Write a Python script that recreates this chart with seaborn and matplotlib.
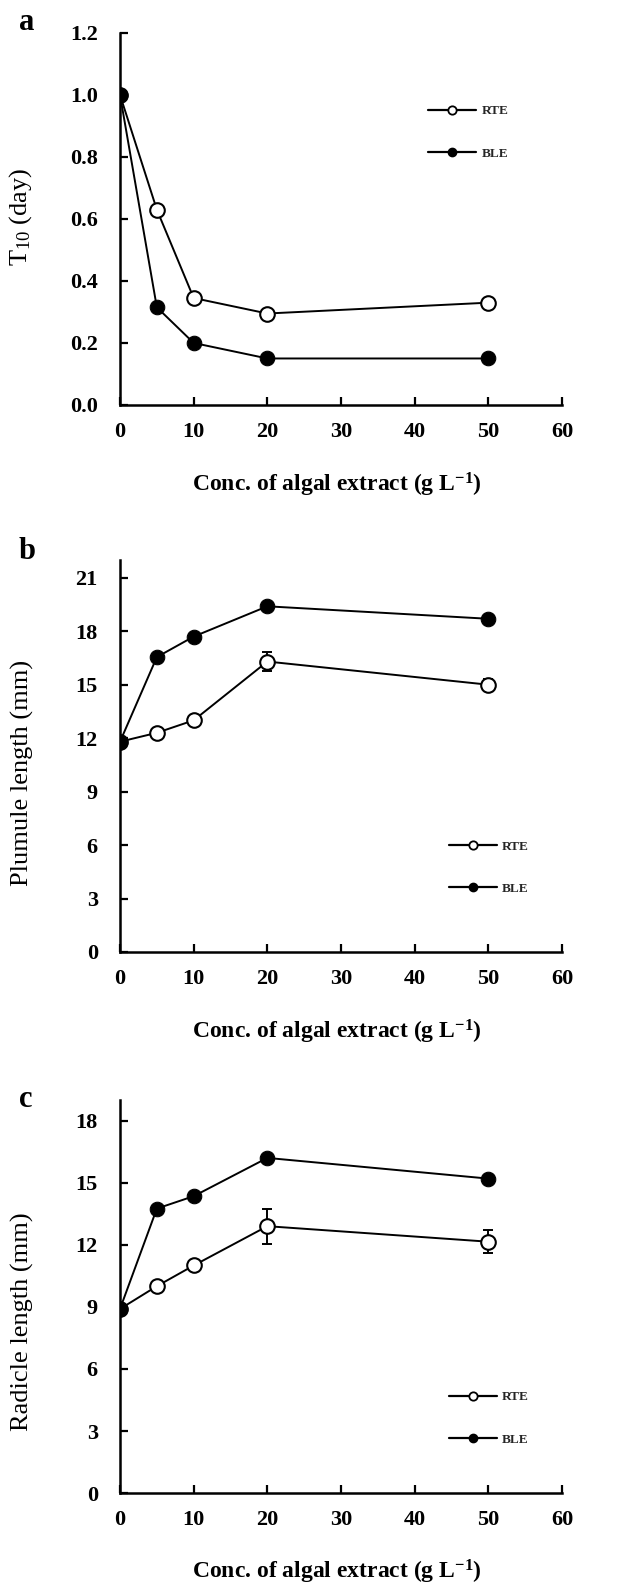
import matplotlib
matplotlib.use("Agg")
import matplotlib.pyplot as plt
from matplotlib.lines import Line2D
import numpy as np
import pandas as pd
import seaborn as sns

# Concentration of algal extract (g L-1)
conc = [0, 5, 10, 20, 50]

# (a) T10 (day)
t10_rte = [1.0, 0.63, 0.345, 0.295, 0.33]
t10_ble = [1.0, 0.315, 0.20, 0.15, 0.15]

# (b) Plumule length (mm)
plumule_rte = [11.8, 12.3, 13.0, 16.3, 15.0]
plumule_rte_err = [0.0, 0.0, 0.0, 0.55, 0.3]
plumule_ble = [11.8, 16.55, 17.7, 19.4, 18.7]

# (c) Radicle length (mm)
radicle_rte = [8.9, 10.0, 11.0, 12.9, 12.15]
radicle_rte_err = [0.0, 0.0, 0.0, 0.85, 0.57]
radicle_ble = [8.9, 13.75, 14.35, 16.2, 15.2]

series_names = ["RTE", "BLE"]
x_ticks = [0, 10, 20, 30, 40, 50, 60]
xlabel = r"Conc. of algal extract (g L$^{\mathregular{-1}}$)"

sns.set_theme(style="white")
plt.rcParams["font.family"] = ["Liberation Serif", "DejaVu Serif"]
plt.rcParams["mathtext.default"] = "regular"

fig = plt.figure(figsize=(6.28, 15.85), dpi=100)

panels = [
    dict(letter="a", rect=[0.1911, 0.7445, 0.7038, 0.2347], rte=t10_rte, ble=t10_ble,
         err=None, ylim=(0, 1.2), yticks=np.arange(0, 1.21, 0.2), fmt="{:.1f}",
         ylabel=r"T$_{\mathregular{10}}$ (day)", ylab_y=0.505, xlab_y=-0.178,
         leg=(0.683, 0.733), letter_y=0.986),
    dict(letter="b", rect=[0.1911, 0.3994, 0.7038, 0.2473], rte=plumule_rte, ble=plumule_ble,
         err=plumule_rte_err, ylim=(0, 22), yticks=np.arange(0, 22, 3), fmt="{:.0f}",
         ylabel="Plumule length (mm)", ylab_y=0.457, xlab_y=-0.168,
         leg=(0.73, 0.215), letter_y=0.652),
    dict(letter="c", rect=[0.1911, 0.0580, 0.7038, 0.2480], rte=radicle_rte, ble=radicle_ble,
         err=radicle_rte_err, ylim=(0, 19), yticks=np.arange(0, 19, 3), fmt="{:.0f}",
         ylabel="Radicle length (mm)", ylab_y=0.435, xlab_y=-0.165,
         leg=(0.73, 0.19), letter_y=0.306),
]

tick_font = dict(family="Liberation Serif", weight="bold", size=16)

for p in panels:
    ax = fig.add_axes(p["rect"])
    df = pd.DataFrame({
        "conc": conc * 2,
        "value": p["rte"] + p["ble"],
        "series": [series_names[0]] * len(conc) + [series_names[1]] * len(conc),
    })
    if p["err"] is not None:
        ax.errorbar(conc, p["rte"], yerr=p["err"], fmt="none", ecolor="black",
                    elinewidth=1.4, capsize=3.5, capthick=1.4, zorder=2)
    sns.lineplot(data=df[df["series"] == "RTE"], x="conc", y="value", ax=ax,
                 color="black", linewidth=1.4, marker="o", markersize=10.5,
                 markerfacecolor="white", markeredgecolor="black",
                 markeredgewidth=1.5, legend=False, zorder=3)
    sns.lineplot(data=df[df["series"] == "BLE"], x="conc", y="value", ax=ax,
                 color="black", linewidth=1.4, marker="o", markersize=10.5,
                 markerfacecolor="black", markeredgecolor="black",
                 legend=False, zorder=4)
    ax.set_xlim(0, 60)
    ax.set_ylim(*p["ylim"])
    ax.set_xticks(x_ticks)
    ax.set_xticklabels([str(v) for v in x_ticks], fontdict=tick_font)
    ax.set_yticks(p["yticks"])
    ax.set_yticklabels([p["fmt"].format(v) for v in p["yticks"]], fontdict=tick_font)
    for s in ["top", "right"]:
        ax.spines[s].set_visible(False)
    for s in ["left", "bottom"]:
        ax.spines[s].set_color("black")
        ax.spines[s].set_linewidth(1.8)
    ax.tick_params(axis="both", direction="in", length=6, width=1.6,
                   colors="black", left=True, bottom=True)
    ax.tick_params(axis="y", pad=16)
    ax.tick_params(axis="x", pad=12)
    ax.set_facecolor("white")
    ax.set_xlabel(xlabel, fontsize=17, fontweight="bold", color="black")
    ax.xaxis.set_label_coords(0.49, p["xlab_y"])
    ax.set_ylabel(p["ylabel"], fontsize=19, color="black")
    ax.yaxis.set_label_coords(-0.195, p["ylab_y"])

    handles = [
        Line2D([], [], color="black", linewidth=1.6, marker="o", markersize=6,
               markerfacecolor="white", markeredgecolor="black", markeredgewidth=1.3),
        Line2D([], [], color="black", linewidth=1.6, marker="o", markersize=6,
               markerfacecolor="black", markeredgecolor="black"),
    ]
    ax.legend(handles, series_names, loc="center left", bbox_to_anchor=p["leg"],
              frameon=False, borderpad=0, handlelength=3.6, handletextpad=0.4,
              labelspacing=2.3, prop=dict(family="Liberation Serif", weight="bold", size=9.5))

    fig.text(0.03, p["letter_y"], p["letter"], fontsize=22, fontweight="bold",
             family="Liberation Serif", va="center", ha="left", color="black")

fig.savefig("out.png", dpi=100, facecolor="white")
